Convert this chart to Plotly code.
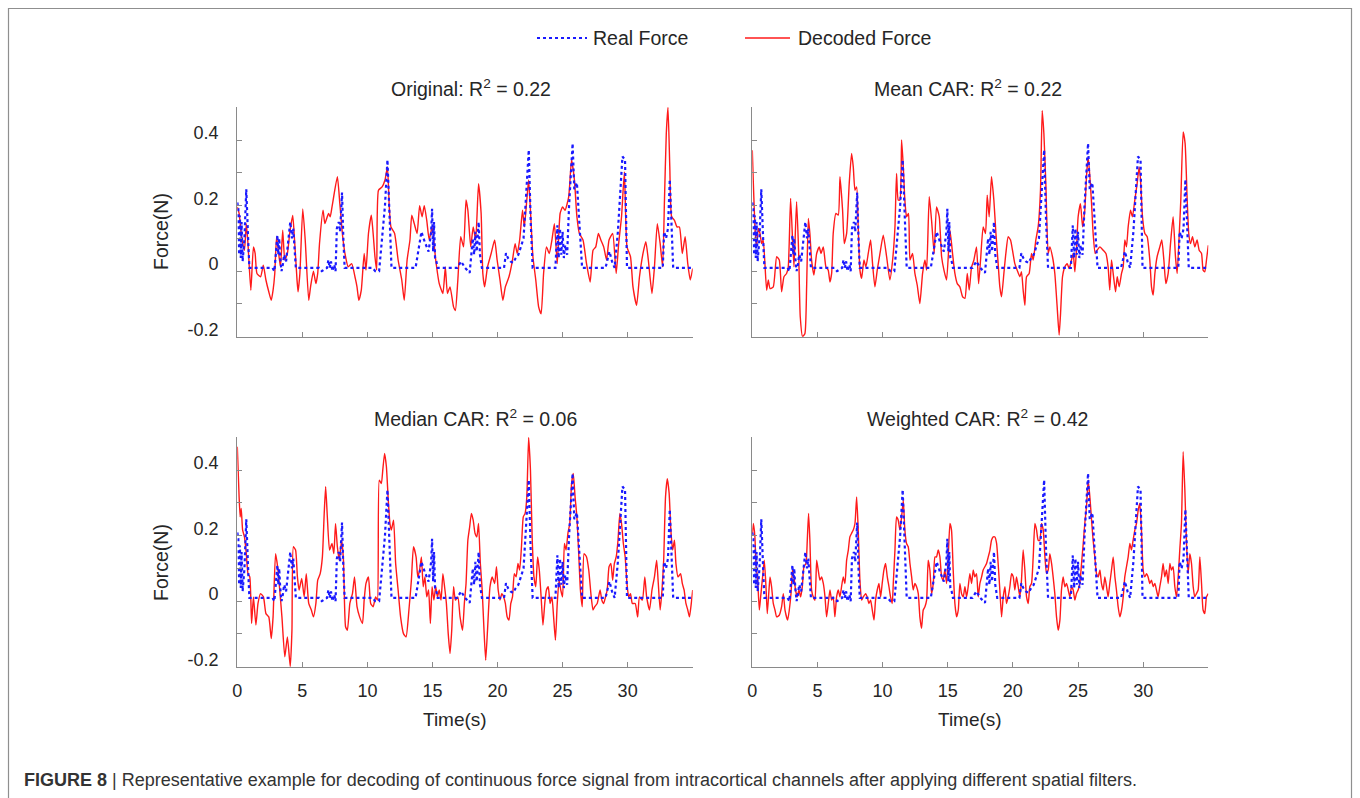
import plotly.graph_objects as go

# ---------------- data (time in s, force in N) ----------------
REAL_FORCE = [(0.00,0.21),(0.08,0.19),(0.14,0.05),(0.20,0.17),(0.27,0.04),(0.33,0.15),(0.41,0.03),(0.55,0.10),
 (0.69,0.25),(0.76,0.14),(0.85,0.08),(0.93,0.01),(2.70,0.01),(2.85,0.0),(3.00,0.06),(3.08,0.11),(3.15,0.05),
 (3.22,0.10),(3.30,0.04),(3.40,0.0),(3.50,0.02),(3.60,0.05),(3.75,0.03),(3.90,0.08),(4.07,0.15),(4.20,0.10),
 (4.30,0.13),(4.40,0.07),(4.50,0.01),(6.30,0.01),(6.50,0.0),(6.70,0.005),(6.90,0.01),(7.00,0.035),(7.10,0.01),
 (7.20,0.03),(7.30,0.0),(7.45,0.02),(7.55,0.0),(7.65,0.13),(7.80,0.15),(7.90,0.12),(8.05,0.24),(8.15,0.10),
 (8.25,0.01),(10.40,0.01),(10.60,0.0),(10.90,0.0),(11.20,0.12),(11.35,0.20),(11.54,0.34),(11.70,0.15),(11.85,0.01),
 (13.70,0.01),(13.95,0.08),(14.15,0.12),(14.40,0.09),(14.70,0.06),(14.90,0.12),(14.97,0.19),(15.05,0.06),
 (15.12,0.15),(15.20,0.04),(15.30,0.03),(15.40,0.01),(16.90,0.01),(17.20,0.03),(17.50,0.01),(17.86,-0.005),
 (18.00,0.06),(18.10,0.10),(18.20,0.05),(18.30,0.12),(18.40,0.06),(18.55,0.15),(18.65,0.05),(18.80,0.01),
 (20.50,0.01),(20.65,0.055),(20.80,0.04),(21.00,0.03),(21.20,0.025),(21.40,0.04),(21.60,0.05),(22.00,0.10),
 (22.15,0.20),(22.30,0.30),(22.40,0.37),(22.55,0.15),(22.70,0.01),(24.45,0.01),(24.60,0.14),(24.70,0.04),
 (24.80,0.13),(24.90,0.05),(25.00,0.12),(25.10,0.04),(25.20,0.08),(25.35,0.05),(25.50,0.20),(25.77,0.39),
 (25.90,0.25),(26.10,0.27),(26.30,0.12),(26.50,0.01),(28.30,0.01),(28.60,0.06),(28.80,0.03),(29.00,0.01),
 (29.25,0.12),(29.45,0.25),(29.60,0.35),(29.80,0.34),(29.95,0.01),(32.70,0.01),(32.80,0.12),(32.95,0.10),
 (33.10,0.13),(33.24,0.28),(33.38,0.15),(33.50,0.01),(35.00,0.01)]

DECODED_ORIGINAL = [(0.00,0.196),(0.14,0.176),(0.36,0.095),(0.55,0.064),(0.69,0.145),(0.82,0.084),(1.04,-0.058),
 (1.24,0.074),(1.37,0.054),(1.51,-0.007),(1.79,-0.017),(2.00,0.018),(2.20,-0.027),(2.42,-0.063),(2.61,-0.089),
 (2.75,-0.058),(2.88,-0.007),(3.02,0.105),(3.21,0.044),(3.32,0.013),(3.49,0.125),(3.65,0.034),(3.85,0.054),
 (4.04,0.12),(4.26,0.17),(4.40,0.095),(4.59,-0.027),(4.67,-0.063),(4.81,-0.007),(5.03,0.19),(5.22,0.095),
 (5.49,-0.089),(5.63,-0.048),(5.85,0.0),(6.04,-0.038),(6.18,-0.007),(6.32,0.085),(6.59,0.186),(6.73,0.145),
 (7.01,0.176),(7.14,0.166),(7.28,0.196),(7.69,0.288),(7.88,0.206),(8.10,0.105),(8.32,0.044),(8.52,0.013),
 (8.79,0.023),(9.07,-0.022),(9.20,-0.048),(9.34,-0.089),(9.53,-0.058),(9.75,0.054),(9.89,0.003),(10.08,0.115),
 (10.30,0.171),(10.44,0.115),(10.58,0.044),(10.71,0.003),(10.85,0.247),(11.13,0.257),(11.35,0.278),(11.54,0.318),
 (11.68,0.196),(11.81,0.135),(12.09,0.115),(12.36,0.034),(12.64,-0.027),(12.83,-0.089),(13.05,0.034),(13.27,0.095),
 (13.41,0.171),(13.60,0.145),(13.82,0.115),(14.01,0.20),(14.20,0.166),(14.37,0.20),(14.56,0.155),(14.75,0.095),
 (14.97,0.135),(15.25,0.034),(15.52,-0.038),(15.80,-0.068),(15.99,0.013),(16.15,-0.068),(16.35,-0.048),
 (16.62,-0.109),(16.76,-0.12),(16.95,-0.027),(17.17,0.105),(17.39,0.074),(17.58,0.217),(17.72,0.186),(17.94,0.074),
 (18.13,0.135),(18.32,0.095),(18.54,0.267),(18.74,0.176),(18.87,-0.007),(19.01,-0.048),(19.23,0.013),(19.51,0.054),
 (19.78,0.095),(19.97,0.034),(20.19,-0.027),(20.41,-0.089),(20.60,-0.048),(20.88,-0.017),(21.15,0.034),(21.35,0.084),
 (21.51,0.054),(21.70,0.095),(21.92,0.186),(22.06,0.135),(22.25,0.217),(22.39,0.278),(22.53,0.186),(22.72,0.044),
 (22.94,-0.027),(23.16,-0.109),(23.35,-0.13),(23.54,-0.007),(23.76,0.074),(23.98,0.054),(24.18,0.095),(24.37,0.145),
 (24.59,0.023),(24.81,0.176),(25.00,0.196),(25.19,0.186),(25.47,0.227),(25.69,0.339),(25.91,0.278),(26.10,0.166),
 (26.29,0.115),(26.57,0.095),(26.84,0.023),(27.12,-0.033),(27.34,0.064),(27.55,0.074),(27.75,0.115),(27.94,0.095),
 (28.16,0.074),(28.38,0.034),(28.57,0.095),(28.85,0.115),(29.12,-0.007),(29.31,0.084),(29.53,0.166),(29.75,0.303),
 (29.95,0.074),(30.22,0.044),(30.41,-0.048),(30.69,-0.104),(30.91,-0.017),(31.18,0.054),(31.40,0.09),(31.59,0.034),
 (31.87,-0.068),(32.06,0.013),(32.28,0.145),(32.50,0.084),(32.69,0.013),(32.83,0.217),(32.97,0.42),(33.10,0.50),
 (33.24,0.318),(33.38,0.166),(33.60,0.155),(33.79,0.135),(33.98,0.135),(34.20,0.054),(34.42,0.105),(34.62,0.023),
 (34.81,-0.027),(35.00,0.008)]

DECODED_MEAN_CAR = [(0.00,0.369),(0.08,0.268),(0.23,0.115),(0.33,0.074),(0.46,0.13),(0.59,0.115),(0.72,0.084),
 (0.84,0.095),(1.10,-0.058),(1.23,-0.027),(1.36,-0.053),(1.61,-0.048),(1.87,0.044),(2.07,0.034),(2.25,-0.063),
 (2.43,-0.017),(2.63,-0.007),(2.76,0.013),(2.94,0.222),(3.09,0.095),(3.20,0.013),(3.40,0.212),(3.56,0.054),
 (3.68,-0.139),(3.86,-0.20),(4.04,-0.19),(4.17,-0.048),(4.30,0.161),(4.42,0.115),(4.55,0.034),(4.73,-0.012),
 (4.94,0.054),(5.14,0.074),(5.27,0.054),(5.45,0.074),(5.65,0.013),(5.83,0.003),(5.96,-0.033),(6.09,-0.007),
 (6.21,0.115),(6.42,0.176),(6.60,0.171),(6.73,0.288),(6.93,0.186),(7.06,0.084),(7.24,0.115),(7.44,0.268),
 (7.62,0.359),(7.75,0.318),(7.88,0.247),(8.01,0.257),(8.13,0.135),(8.26,0.003),(8.39,-0.022),(8.57,0.034),
 (8.72,0.013),(8.90,0.054),(9.08,0.095),(9.23,0.023),(9.41,-0.048),(9.59,0.003),(9.80,0.054),(10.05,0.11),
 (10.31,0.044),(10.56,-0.027),(10.77,0.034),(10.95,0.135),(11.07,0.298),(11.20,0.217),(11.33,0.217),(11.46,0.40),
 (11.59,0.318),(11.71,0.217),(11.84,0.166),(11.99,0.176),(12.10,0.034),(12.30,0.054),(12.48,-0.007),(12.66,-0.043),
 (12.86,-0.099),(13.07,-0.007),(13.25,0.034),(13.38,0.003),(13.58,0.227),(13.76,0.155),(13.96,0.054),(14.14,0.196),
 (14.35,0.166),(14.53,0.044),(14.71,0.003),(14.91,-0.027),(15.17,0.125),(15.37,0.054),(15.55,-0.007),(15.73,-0.038),
 (15.93,-0.048),(16.14,-0.078),(16.32,-0.083),(16.50,-0.007),(16.65,-0.058),(16.83,0.013),(17.01,0.034),(17.21,0.074),
 (17.37,-0.038),(17.52,0.034),(17.72,0.135),(17.90,0.115),(18.03,0.232),(18.18,0.166),(18.36,0.288),(18.54,0.217),
 (18.70,0.115),(18.87,0.023),(19.00,-0.048),(19.13,-0.078),(19.31,-0.007),(19.46,0.054),(19.64,0.105),(19.82,0.095),
 (19.97,0.064),(20.15,0.023),(20.33,0.003),(20.54,-0.017),(20.66,-0.002),(20.79,-0.058),(20.92,-0.104),(21.05,-0.017),
 (21.25,-0.007),(21.43,0.054),(21.56,0.034),(21.76,0.095),(21.94,0.135),(22.12,0.247),(22.25,0.49),(22.38,0.42),
 (22.53,0.268),(22.71,0.054),(22.84,0.074),(23.04,0.044),(23.22,-0.007),(23.40,-0.109),(23.55,-0.195),(23.66,-0.129),
 (23.81,-0.017),(23.99,0.013),(24.17,0.023),(24.32,0.008),(24.50,0.034),(24.63,0.054),(24.76,-0.002),(24.88,0.064),
 (25.01,0.166),(25.19,0.206),(25.35,0.135),(25.52,0.186),(25.65,0.288),(25.78,0.349),(25.91,0.288),(26.04,0.206),
 (26.16,0.115),(26.32,0.054),(26.47,0.064),(26.68,0.074),(26.93,0.064),(27.14,0.054),(27.31,0.013),(27.44,-0.058),
 (27.57,0.034),(27.70,-0.007),(27.88,-0.063),(28.01,-0.017),(28.16,-0.048),(28.34,-0.007),(28.47,0.013),(28.59,0.095),
 (28.72,0.074),(28.85,0.135),(29.03,0.186),(29.18,0.166),(29.36,0.217),(29.54,0.268),(29.69,0.318),(29.80,0.278),
 (29.95,0.166),(30.13,0.115),(30.31,0.105),(30.51,0.034),(30.64,-0.048),(30.77,-0.073),(30.90,-0.007),(31.07,0.044),
 (31.28,0.074),(31.43,0.095),(31.59,0.034),(31.74,-0.038),(31.92,-0.007),(32.10,0.084),(32.30,0.166),(32.48,0.044),
 (32.61,-0.007),(32.76,0.105),(32.89,0.217),(33.07,0.425),(33.22,0.39),(33.38,0.217),(33.50,0.115),(33.63,0.084),
 (33.79,0.105),(33.96,0.074),(34.14,0.095),(34.30,0.064),(34.48,0.054),(34.60,0.003),(34.73,-0.002),(34.86,0.034),
 (35.00,0.079)]

DECODED_MEDIAN_CAR = [(0.00,0.471),(0.14,0.318),(0.22,0.257),(0.30,0.283),(0.41,0.217),(0.55,0.196),(0.69,0.145),
 (0.82,0.084),(0.96,0.074),(1.10,-0.068),(1.24,0.013),(1.43,-0.073),(1.59,-0.007),(1.79,0.023),(2.01,0.013),
 (2.20,-0.038),(2.42,-0.048),(2.61,-0.114),(2.75,-0.048),(2.94,0.145),(3.10,0.105),(3.24,0.044),(3.43,-0.048),
 (3.65,-0.17),(3.85,-0.109),(4.07,-0.20),(4.20,-0.089),(4.31,0.166),(4.48,0.156),(4.62,0.074),(4.75,0.034),
 (4.95,0.069),(5.14,0.013),(5.30,0.084),(5.49,-0.007),(5.69,-0.027),(5.85,-0.048),(6.04,-0.007),(6.18,0.064),
 (6.37,0.084),(6.54,0.135),(6.68,0.268),(6.79,0.349),(6.92,0.257),(7.09,0.156),(7.28,0.176),(7.42,0.145),
 (7.55,0.237),(7.69,0.166),(7.83,0.125),(8.02,0.186),(8.16,0.125),(8.32,-0.078),(8.46,-0.089),(8.65,-0.007),
 (8.85,0.023),(9.01,0.074),(9.20,-0.017),(9.40,-0.048),(9.62,-0.068),(9.75,0.003),(9.89,0.054),(10.08,0.074),
 (10.25,-0.007),(10.44,-0.017),(10.63,0.013),(10.77,0.003),(10.91,0.369),(11.07,0.359),(11.18,0.40),(11.32,0.451),
 (11.46,0.41),(11.59,0.318),(11.73,0.237),(11.84,0.217),(12.01,0.247),(12.17,0.115),(12.36,0.034),(12.55,-0.048),
 (12.77,-0.099),(12.97,-0.109),(13.19,-0.027),(13.38,0.064),(13.54,0.166),(13.74,0.135),(13.87,0.074),(14.01,0.095),
 (14.15,0.135),(14.29,0.044),(14.42,0.074),(14.56,0.013),(14.70,0.034),(14.84,-0.068),(14.97,0.044),(15.11,0.003),
 (15.25,0.044),(15.38,0.013),(15.52,0.034),(15.66,0.003),(15.80,0.084),(15.93,0.044),(16.07,-0.007),(16.21,-0.099),
 (16.35,-0.16),(16.48,-0.089),(16.62,0.044),(16.76,0.003),(16.95,0.013),(17.12,-0.048),(17.31,-0.089),(17.45,-0.007),
 (17.58,0.054),(17.72,0.186),(17.86,0.227),(17.99,0.268),(18.13,0.247),(18.27,0.207),(18.41,0.196),(18.54,0.237),
 (18.68,0.115),(18.82,0.034),(18.96,-0.089),(19.09,-0.18),(19.23,-0.089),(19.42,0.044),(19.59,0.074),(19.78,0.054),
 (19.92,0.105),(20.05,0.034),(20.19,0.003),(20.33,0.023),(20.47,0.013),(20.60,-0.007),(20.74,-0.048),(20.88,-0.058),
 (21.02,-0.007),(21.15,0.013),(21.29,0.084),(21.43,0.074),(21.57,0.115),(21.70,0.095),(21.84,0.166),(21.98,0.257),
 (22.12,0.268),(22.25,0.318),(22.39,0.50),(22.53,0.40),(22.66,0.196),(22.80,0.074),(22.94,0.044),(23.08,0.135),
 (23.21,0.095),(23.35,0.013),(23.49,-0.073),(23.63,-0.007),(23.76,0.034),(23.90,0.044),(24.04,-0.007),(24.18,0.013),
 (24.31,-0.048),(24.45,-0.119),(24.59,-0.007),(24.73,0.064),(24.86,0.034),(25.00,0.013),(25.14,0.176),(25.27,0.156),
 (25.41,0.207),(25.55,0.237),(25.69,0.359),(25.82,0.39),(25.96,0.318),(26.10,0.257),(26.24,0.145),(26.37,0.034),
 (26.51,-0.017),(26.65,0.145),(26.84,0.135),(27.01,0.095),(27.20,0.013),(27.34,-0.027),(27.47,-0.017),(27.66,-0.007),
 (27.88,0.034),(28.02,0.003),(28.16,-0.007),(28.30,0.013),(28.43,0.034),(28.57,0.105),(28.71,0.115),(28.85,0.064),
 (28.98,0.115),(29.12,0.135),(29.26,0.186),(29.40,0.268),(29.53,0.237),(29.67,0.176),(29.81,0.135),(29.95,0.054),
 (30.08,0.013),(30.22,0.023),(30.36,-0.007),(30.58,-0.007),(30.77,-0.048),(30.91,0.013),(31.13,0.003),(31.32,0.074),
 (31.46,0.013),(31.68,-0.027),(31.87,0.034),(32.06,0.074),(32.23,0.125),(32.34,0.064),(32.50,-0.027),(32.64,0.034),
 (32.77,0.125),(32.91,0.318),(33.05,0.374),(33.19,0.329),(33.32,0.217),(33.46,0.156),(33.60,0.186),(33.71,0.115),
 (33.87,0.074),(34.07,0.084),(34.20,0.054),(34.34,0.034),(34.48,-0.007),(34.62,-0.027),(34.75,-0.048),(34.89,-0.007),
 (35.00,0.034)]

DECODED_WEIGHTED_CAR = [(0.00,0.206),(0.08,0.237),(0.20,0.196),(0.28,0.115),(0.41,0.064),(0.54,-0.027),(0.64,0.013),
 (0.79,0.074),(0.92,0.125),(1.05,0.044),(1.15,-0.038),(1.28,0.034),(1.36,0.074),(1.48,0.044),(1.61,-0.007),
 (1.74,-0.027),(1.87,-0.048),(2.07,-0.043),(2.25,-0.017),(2.38,0.023),(2.51,-0.027),(2.71,-0.058),(2.84,-0.027),
 (2.97,0.023),(3.09,0.095),(3.20,0.074),(3.32,0.034),(3.45,0.013),(3.58,0.034),(3.71,0.013),(3.84,0.044),
 (3.96,0.105),(4.12,0.115),(4.22,0.186),(4.32,0.268),(4.42,0.186),(4.55,0.034),(4.68,0.013),(4.81,0.003),
 (4.94,0.125),(5.06,0.095),(5.19,0.064),(5.32,0.074),(5.45,0.054),(5.58,0.013),(5.70,-0.048),(5.83,-0.007),
 (5.96,0.034),(6.09,0.003),(6.21,0.013),(6.34,-0.048),(6.47,0.013),(6.60,0.034),(6.73,0.013),(6.85,0.044),
 (6.98,0.074),(7.11,0.054),(7.24,0.125),(7.37,0.156),(7.49,0.196),(7.62,0.207),(7.75,0.217),(7.88,0.237),
 (8.01,0.318),(8.13,0.217),(8.26,0.064),(8.39,0.003),(8.52,0.013),(8.70,0.023),(8.82,0.013),(8.95,-0.007),
 (9.08,0.003),(9.21,-0.027),(9.34,-0.058),(9.46,0.003),(9.59,0.034),(9.72,0.054),(9.85,0.013),(9.97,0.054),
 (10.10,0.095),(10.23,0.115),(10.36,0.074),(10.49,0.044),(10.61,0.013),(10.74,-0.007),(10.82,0.054),(10.95,0.156),
 (11.07,0.257),(11.20,0.247),(11.33,0.217),(11.46,0.257),(11.59,0.308),(11.71,0.217),(11.84,0.176),(11.97,0.166),
 (12.10,0.115),(12.23,0.074),(12.35,0.034),(12.48,0.054),(12.61,0.044),(12.74,0.023),(12.86,-0.048),(12.99,-0.083),
 (13.12,-0.027),(13.25,-0.017),(13.38,0.003),(13.50,0.125),(13.63,0.095),(13.76,0.023),(13.89,0.054),(14.02,0.135),
 (14.14,0.135),(14.27,0.156),(14.40,0.135),(14.53,0.074),(14.65,0.064),(14.78,0.095),(14.91,0.054),(15.04,0.135),
 (15.17,0.237),(15.29,0.217),(15.42,0.095),(15.55,-0.007),(15.68,-0.048),(15.81,-0.027),(15.93,0.054),(16.06,0.023),
 (16.19,0.013),(16.32,0.044),(16.45,0.013),(16.57,0.044),(16.70,0.084),(16.83,0.054),(16.96,0.095),(17.08,0.074),
 (17.21,0.084),(17.34,0.013),(17.47,0.054),(17.60,0.074),(17.72,0.095),(17.85,0.105),(17.98,0.115),(18.11,0.135),
 (18.24,0.156),(18.36,0.186),(18.49,0.196),(18.62,0.196),(18.75,0.176),(18.87,0.115),(19.00,0.034),(19.13,-0.048),
 (19.26,0.013),(19.39,0.044),(19.51,-0.007),(19.64,0.013),(19.77,0.044),(19.90,0.084),(20.03,0.074),(20.15,0.034),
 (20.28,0.074),(20.41,0.044),(20.54,0.013),(20.66,0.064),(20.79,0.156),(20.92,0.095),(21.05,0.013),(21.18,-0.007),
 (21.30,0.044),(21.43,0.054),(21.56,0.135),(21.69,0.237),(21.82,0.217),(21.94,0.186),(22.07,0.186),(22.20,0.237),
 (22.33,0.217),(22.46,0.135),(22.58,0.084),(22.71,0.095),(22.84,0.145),(22.97,0.115),(23.09,0.074),(23.22,0.023),
 (23.35,-0.048),(23.48,-0.089),(23.61,-0.058),(23.73,0.034),(23.86,0.074),(23.99,0.044),(24.12,0.054),(24.25,0.034),
 (24.37,0.013),(24.50,0.044),(24.63,0.034),(24.76,0.003),(24.88,0.023),(25.01,0.034),(25.14,0.054),(25.27,0.115),
 (25.40,0.176),(25.52,0.237),(25.65,0.288),(25.78,0.369),(25.91,0.318),(26.04,0.247),(26.16,0.186),(26.29,0.135),
 (26.42,0.084),(26.55,0.074),(26.68,0.095),(26.80,0.054),(26.93,0.034),(27.06,0.074),(27.19,0.044),(27.31,0.013),
 (27.44,0.054),(27.57,0.095),(27.70,0.135),(27.83,0.074),(27.95,0.034),(28.08,-0.017),(28.21,-0.048),(28.34,-0.027),
 (28.47,0.013),(28.59,0.074),(28.72,0.105),(28.85,0.135),(28.98,0.176),(29.10,0.156),(29.23,0.186),(29.36,0.217),
 (29.49,0.237),(29.62,0.278),(29.74,0.298),(29.87,0.217),(30.00,0.095),(30.13,0.074),(30.26,0.084),(30.38,0.074),
 (30.51,0.054),(30.64,0.064),(30.77,0.044),(30.90,0.054),(31.02,0.034),(31.15,0.013),(31.28,0.044),(31.41,0.074),
 (31.53,0.115),(31.66,0.074),(31.79,0.095),(31.92,0.054),(32.05,0.115),(32.17,0.095),(32.30,0.105),(32.43,0.044),
 (32.56,0.013),(32.69,0.074),(32.81,0.156),(32.94,0.237),(33.07,0.456),(33.20,0.339),(33.32,0.186),(33.45,0.084),
 (33.58,0.145),(33.71,0.115),(33.84,0.044),(33.96,0.013),(34.09,0.023),(34.22,0.034),(34.35,0.135),(34.48,0.054),
 (34.60,-0.027),(34.73,-0.038),(34.86,0.013),(35.00,0.023)]

PANEL_TITLES = ["Original: R<sup>2</sup> = 0.22", "Mean CAR: R<sup>2</sup> = 0.22",
                "Median CAR: R<sup>2</sup> = 0.06", "Weighted CAR: R<sup>2</sup> = 0.42"]
DECODED = [DECODED_ORIGINAL, DECODED_MEAN_CAR, DECODED_MEDIAN_CAR, DECODED_WEIGHTED_CAR]
Y_TICKS = [-0.2, 0.0, 0.2, 0.4]
Y_TICK_TEXT = ["-0.2", "0", "0.2", "0.4"]
Y_MINOR_TICKS = [-0.1, 0.1, 0.3]
X_TICKS = [0, 5, 10, 15, 20, 25, 30]
X_TICK_TEXT = ["0", "5", "10", "15", "20", "25", "30"]
CAPTION_BOLD = "FIGURE 8"
CAPTION = ("Representative example for decoding of continuous force signal from intracortical "
           "channels after applying different spatial filters.")

# ---------------- layout helpers ----------------
W, H = 1360, 798
def PX(x): return x / W
def PY(y): return 1 - y / H

FONT = "Liberation Sans, Arial, Helvetica, sans-serif"
AX_COL = "#8a8a8a"
TXT = "#262626"
BLUE = "#1a1aff"
RED = "#ff1a1a"

# panel pixel boxes: (left, right, top, bottom)
BOXES = [(237.3, 692.7, 107.3, 336.7), (752.3, 1208.3, 107.3, 336.7),
         (237.3, 692.7, 437.3, 666.7), (752.3, 1208.3, 437.3, 666.7)]

fig = go.Figure()
layout = {}
for i, (l, r, t, b) in enumerate(BOXES):
    n = "" if i == 0 else str(i + 1)
    xa, ya = "x" + n, "y" + n
    rt, fv = zip(*REAL_FORCE)
    dt, dv = zip(*DECODED[i])
    fig.add_trace(go.Scatter(x=dt, y=dv, xaxis=xa, yaxis=ya, mode="lines",
                             line=dict(color=RED, width=1.4, shape="spline", smoothing=0.5),
                             showlegend=False, name="Decoded Force"))
    fig.add_trace(go.Scatter(x=rt, y=fv, xaxis=xa, yaxis=ya, mode="lines",
                             line=dict(color=BLUE, width=2.2, dash="dot"), showlegend=False, name="Real Force"))
    left = i in (0, 2)
    bottom = i in (2, 3)
    layout["xaxis" + n] = dict(domain=[PX(l), PX(r)], anchor=ya, range=[0, 35], automargin=False,
                               tickmode="array", tickvals=X_TICKS, ticktext=X_TICK_TEXT,
                               showticklabels=bottom, ticks="inside", ticklen=5, tickcolor=AX_COL,
                               showline=True, linecolor=AX_COL, linewidth=1.3, showgrid=False,
                               zeroline=False, ticklabelstandoff=8,
                               tickfont=dict(family=FONT, size=18, color=TXT))
    layout["yaxis" + n] = dict(domain=[PY(b), PY(t)], anchor=xa, range=[-0.2, 0.5], automargin=False,
                               tickmode="array", tickvals=Y_TICKS, ticktext=Y_TICK_TEXT,
                               showticklabels=left, ticks="inside", ticklen=5, tickcolor=AX_COL,
                               minor=dict(tickmode="array", tickvals=Y_MINOR_TICKS, ticks="inside",
                                          ticklen=5, tickcolor=AX_COL, showgrid=False),
                               showline=True, linecolor=AX_COL, linewidth=1.3, showgrid=False,
                               zeroline=False, ticklabelshift=-7, ticklabelstandoff=14,
                               tickfont=dict(family=FONT, size=18, color=TXT))

annotations = []
title_pos = [(471, 88), (968, 88), (476, 418), (977, 418)]
for (x, y), txt in zip(title_pos, PANEL_TITLES):
    annotations.append(dict(x=PX(x), y=PY(y), xref="paper", yref="paper", text=txt, showarrow=False,
                            xanchor="center", yanchor="middle", font=dict(family=FONT, size=19.5, color=TXT)))
for y in (232, 563):
    annotations.append(dict(x=PX(161), y=PY(y), xref="paper", yref="paper", text="Force(N)", showarrow=False,
                            textangle=-90, xanchor="center", yanchor="middle",
                            font=dict(family=FONT, size=19.5, color=TXT)))
for x in (455, 970):
    annotations.append(dict(x=PX(x), y=PY(719), xref="paper", yref="paper", text="Time(s)", showarrow=False,
                            xanchor="center", yanchor="middle", font=dict(family=FONT, size=19, color=TXT)))
# legend
annotations.append(dict(x=PX(591), y=PY(38), xref="paper", yref="paper", text="Real Force", showarrow=False,
                        xanchor="left", yanchor="middle", font=dict(family=FONT, size=19.5, color=TXT)))
annotations.append(dict(x=PX(796), y=PY(38), xref="paper", yref="paper", text="Decoded Force", showarrow=False,
                        xanchor="left", yanchor="middle", font=dict(family=FONT, size=19.5, color=TXT)))
# caption
annotations.append(dict(x=PX(22), y=PY(780), xref="paper", yref="paper",
                        text="<b>" + CAPTION_BOLD + "</b> | " + CAPTION, showarrow=False,
                        xanchor="left", yanchor="middle", font=dict(family=FONT, size=18, color="#333333")))

shapes = [
    dict(type="line", xref="paper", yref="paper", x0=PX(537), x1=PX(587), y0=PY(38), y1=PY(38),
         line=dict(color=BLUE, width=2.2, dash="dot")),
    dict(type="line", xref="paper", yref="paper", x0=PX(745), x1=PX(790), y0=PY(38), y1=PY(38),
         line=dict(color=RED, width=1.6)),
    dict(type="rect", xref="paper", yref="paper", x0=PX(8.5), x1=PX(1351.5), y0=PY(830), y1=PY(8.5),
         line=dict(color="#8f8f8f", width=1.2), fillcolor="rgba(0,0,0,0)"),
]

fig.update_layout(width=W, height=H, margin=dict(l=0, r=0, t=0, b=0, autoexpand=False),
                  paper_bgcolor="white", plot_bgcolor="white", showlegend=False,
                  annotations=annotations, shapes=shapes, **layout)
fig.write_html("out.html")
